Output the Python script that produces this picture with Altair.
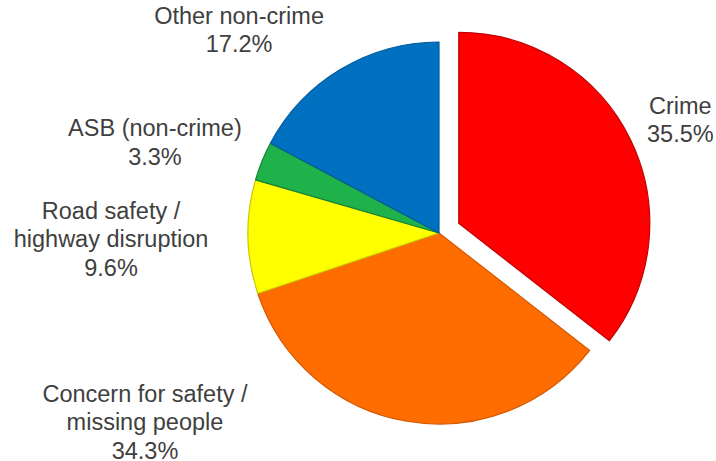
import math
import altair as alt
import pandas as pd

# ---- data ----
categories = ["Crime", "Concern for safety /\nmissing people", "Road safety /\nhighway disruption",
              "ASB (non-crime)", "Other non-crime"]
keys = ["Crime", "Concern", "Road", "ASB", "Other"]
values = [35.5, 34.3, 9.6, 3.3, 17.2]
colors = ["#FF0000", "#FF6D00", "#FFFF00", "#1FB14A", "#0070C0"]
strokes = ["#C00000", "#D45800", "#C8C800", "#128238", "#005A9A"]

# ---- layout (styles / positions) ----
CX, CY = 439, 233
R = 191
EXPLODE = 22
FONT = "Liberation Sans"
FS = 23.5
LH = 28.5
LABEL_R = R + 40
# pixel nudges of each label (first line) from its radial anchor
label_nudge = {
    "Crime": (14, -15),
    "Concern": (-255, -66),
    "Road": (-97, -26),
    "ASB": (-70, -17),
    "Other": (-81, -18),
}

total = sum(values)
rows = []
acc = 0.0
for k, c, v, col, st in zip(keys, categories, values, colors, strokes):
    rows.append(dict(key=k, category=c, value=v, start=acc, end=acc + v,
                     mid=acc + v / 2, color=col, stroke=st,
                     label=f"{c}\n{v:.1f}%"))
    acc += v
df = pd.DataFrame(rows)

theta_scale = alt.Scale(domain=[0, total], range=[0, 2 * math.pi])

layers = []
for _, r in df.iterrows():
    cx, cy = CX, CY
    if r["key"] == "Crime":
        a = r["mid"] / total * 2 * math.pi
        cx = CX + EXPLODE * math.sin(a)
        cy = CY - EXPLODE * math.cos(a)
    sub = df[df["key"] == r["key"]]
    arc = alt.Chart(sub).mark_arc(
        outerRadius=R, fill=r["color"], stroke=r["stroke"], strokeWidth=1.2,
        strokeJoin="round"
    ).encode(
        theta=alt.Theta("start:Q", scale=theta_scale),
        theta2="end:Q",
        x=alt.value(cx), y=alt.value(cy),
    )
    ddx, ddy = label_nudge[r["key"]]
    txt = alt.Chart(sub).mark_text(
        font=FONT, fontSize=FS, color="#404040", align="center",
        baseline="middle", lineBreak="\n", lineHeight=LH,
        radius=LABEL_R, dx=ddx, dy=ddy,
    ).encode(
        theta=alt.Theta("mid:Q", scale=theta_scale),
        text="label:N",
        x=alt.value(cx), y=alt.value(cy),
    )
    layers += [arc, txt]

chart = alt.layer(*layers).properties(
    width=716, height=461, padding=0, autosize="none",
).configure_view(stroke=None)

chart.save("out.html", embed_options={"renderer": "svg", "actions": False})
